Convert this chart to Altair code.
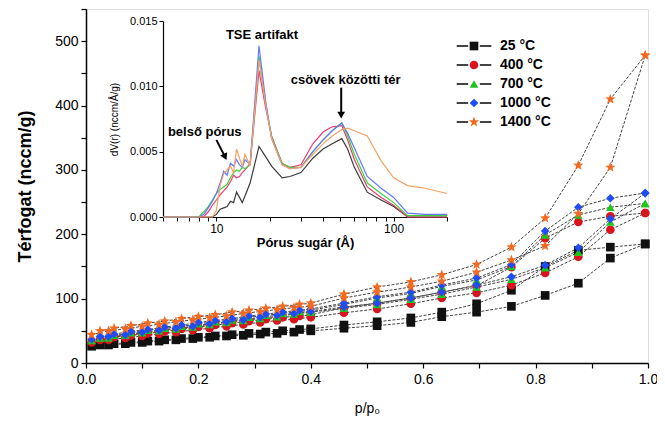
import altair as alt
import pandas as pd

FONT = "Liberation Sans"

# ---------------- main isotherm data ----------------
temps = ["25 °C", "400 °C", "700 °C", "1000 °C", "1400 °C"]
marker_colors = ["#111111", "#d8141e", "#1fc41f", "#1f4cf5", "#f26a21"]
star = ("M0,-1.25L0.309,-0.425L1.189,-0.386L0.499,0.163L0.735,1.011L0,0.525"
        "L-0.735,1.011L-0.499,0.163L-1.189,-0.386L-0.309,-0.425Z")
marker_shapes = ["square", "circle", "triangle-up", "diamond", star]

x_ads = [0.01, 0.04, 0.07, 0.10, 0.13, 0.16, 0.19, 0.22, 0.25, 0.28, 0.31, 0.34,
         0.37, 0.40, 0.459, 0.518, 0.578, 0.633, 0.695, 0.757, 0.817, 0.876, 0.933, 0.995]
x_des = [0.995, 0.933, 0.876, 0.817, 0.757, 0.695, 0.633, 0.578, 0.518, 0.459, 0.40, 0.38,
         0.35, 0.32, 0.29, 0.26, 0.23, 0.20, 0.17, 0.14, 0.11, 0.08, 0.05, 0.025]

ads_25 = [26, 28, 30, 32, 34, 36, 38, 40, 42, 43, 45, 46, 48, 50, 54, 58, 63, 72, 79, 88, 105, 124, 163, 185]
des_25 = [185, 180, 175, 150, 113, 92, 79, 70, 64, 59, 53, 52, 50, 48, 46, 44, 42, 40, 38, 36, 34, 32, 30, 28]
ads_400 = [32, 36, 39, 42, 45, 48, 51, 54, 57, 60, 63, 66, 68, 71, 78, 84, 92, 101, 109, 121, 140, 165, 207, 233]
des_400 = [233, 228, 219, 194, 149, 120, 110, 101, 93, 86, 75, 73, 71, 68, 65, 62, 59, 56, 53, 49, 46, 43, 40, 36]
ads_700 = [35, 39, 43, 47, 50, 53, 56, 60, 63, 66, 69, 72, 76, 79, 85, 91, 99, 107, 118, 130, 148, 172, 219, 248]
des_700 = [248, 242, 230, 199, 150, 129, 119, 108, 101, 91, 82, 80, 77, 74, 71, 67, 64, 61, 57, 54, 51, 47, 43, 39]
ads_1000 = [37, 41, 44, 48, 51, 54, 57, 61, 64, 67, 71, 74, 77, 80, 87, 93, 101, 110, 121, 134, 152, 179, 224, 264]
des_1000 = [264, 256, 242, 205, 153, 132, 121, 110, 103, 93, 84, 82, 79, 76, 73, 69, 66, 63, 59, 56, 52, 49, 45, 41]
ads_1400 = [44, 50, 53, 57, 60, 64, 67, 70, 73, 77, 80, 83, 86, 88, 101, 110, 118, 127, 141, 160, 182, 232, 304, 478]
des_1400 = [478, 410, 307, 225, 180, 153, 137, 126, 118, 107, 93, 91, 88, 85, 82, 79, 75, 72, 69, 65, 62, 58, 54, 50]

ads_all = [ads_25, ads_400, ads_700, ads_1000, ads_1400]
des_all = [des_25, des_400, des_700, des_1000, des_1400]

rows = []
for t, a, d in zip(temps, ads_all, des_all):
    for i, (xv, yv) in enumerate(zip(x_ads, a)):
        rows.append({"series": t, "branch": "ads", "idx": i, "x": xv, "y": yv})
    for i, (xv, yv) in enumerate(zip(x_des, d)):
        rows.append({"series": t, "branch": "des", "idx": i, "x": xv, "y": yv})
main_df = pd.DataFrame(rows)

# ---------------- inset (pore size distribution) ----------------
r_grid = [5, 6, 7, 8, 8.5, 9, 9.5, 10, 10.5, 11, 11.5, 12, 12.5, 13, 13.5, 14, 14.5, 15.5,
          17.4, 19, 20.5, 23.5, 26, 30, 35, 40, 45, 51, 55, 60, 71, 85, 100, 120, 150, 200]
psd_25 = [0, 0, 0, 0, 0, 0, 0, 0.2, 0.6, 0.7, 0.8, 1.2, 1.1, 1.9, 1.5, 1.1, 1.6, 2.6,
          5.4, 4.6, 3.9, 3.0, 3.1, 3.4, 4.5, 5.2, 5.6, 6.0, 5.2, 3.8, 1.9, 1.3, 0.8, 0.0, 0.0, 0.0]
psd_400 = [0, 0, 0, 0, 0.05, 0.4, 0.9, 1.3, 1.7, 2.0, 2.3, 2.7, 3.2, 3.0, 3.1, 3.4, 3.6, 4.1,
           11.2, 8.3, 6.2, 4.1, 3.8, 4.0, 5.6, 6.5, 6.9, 7.0, 5.9, 4.4, 2.3, 1.5, 0.9, 0.0, 0.0, 0.0]
psd_700 = [0, 0, 0, 0.05, 0.4, 0.8, 1.3, 1.8, 2.1, 2.3, 2.5, 3.0, 3.4, 3.6, 3.5, 3.8, 3.7, 4.0,
           12.3, 8.6, 6.1, 4.1, 3.8, 3.8, 5.0, 5.9, 6.6, 7.2, 6.2, 4.8, 2.6, 1.8, 1.1, 0.1, 0.1, 0.1]
psd_1000 = [0, 0, 0, 0, 0.2, 0.7, 1.2, 1.8, 2.6, 3.5, 3.2, 4.1, 3.9, 4.4, 4.0, 3.8, 4.4, 4.0,
            13.1, 8.8, 6.0, 4.0, 3.7, 3.8, 5.0, 5.9, 6.6, 7.2, 6.4, 5.3, 3.1, 2.2, 1.5, 0.3, 0.2, 0.2]
psd_1400 = [0, 0, 0, 0, 0, 0, 0, 0.5, 2.4, 3.3, 3.6, 3.9, 3.4, 5.2, 4.5, 3.9, 4.8, 3.9,
            12.0, 8.5, 6.0, 4.0, 3.7, 3.8, 4.8, 5.6, 6.2, 6.7, 6.8, 6.6, 6.2, 4.3, 3.0, 2.4, 2.2, 1.8]
psd_all = [psd_25, psd_400, psd_700, psd_1000, psd_1400]
inset_colors = ["#3a3a3a", "#ee3a6e", "#3ad43a", "#6476ff", "#f4a263"]

irows = []
for t, vals in zip(temps, psd_all):
    for rv, vv in zip(r_grid, vals):
        irows.append({"series": t, "r": rv, "v": vv / 1000.0})
inset_df = pd.DataFrame(irows)

notes_r = [18.1, 53.6, 8.6]
notes_v = [0.0139, 0.0105, 0.0065]
notes_text = ["TSE artifakt", "csövek közötti tér", "belső pórus"]
notes_df = pd.DataFrame({"r": notes_r, "v": notes_v, "text": notes_text})

arrow_r = [10.0, 50.6]
arrow_r2 = [11.2, 50.6]
arrow_v = [0.0059, 0.0099]
arrow_v2 = [0.0046, 0.0078]
arrow_angle = [334, 0]
arrows_df = pd.DataFrame({"r": arrow_r, "r2": arrow_r2, "v": arrow_v, "v2": arrow_v2,
                          "angle": arrow_angle})

# ---------------- main chart ----------------
W, H = 562, 354
IX0, IX1 = 77, 361      # inset horizontal extent inside the plot area
IY0, IY1 = 208, 12      # inset vertical extent inside the plot area

x_main = alt.X("x:Q", scale=alt.Scale(domain=[0, 1], nice=False),
               axis=alt.Axis(title="p/p₀", values=[i / 10 for i in range(11)], format=".1f",
                             labelExpr="(round(datum.value*10) % 2 == 0) ? datum.label : ''",
                             labelFontSize=14, titleFontSize=14, titleFontWeight="normal",
                             tickSize=5, labelPadding=4, titlePadding=15, labelFlush=False,
                             domainWidth=1.5, tickWidth=1.2, domainColor="#000", tickColor="#000",
                             labelColor="#000", titleColor="#000", grid=False))
y_main = alt.Y("y:Q", scale=alt.Scale(domain=[0, 550], nice=False),
               axis=alt.Axis(title="Térfogat (nccm/g)", values=list(range(0, 551, 50)),
                             labelExpr="(datum.value % 100 == 0) ? datum.label : ''",
                             labelFontSize=14, titleFontSize=18, titleFontWeight="bold",
                             tickSize=5, labelPadding=3, titlePadding=20,
                             domainWidth=1.5, tickWidth=1.2, domainColor="#000", tickColor="#000",
                             labelColor="#000", titleColor="#000", grid=False))

line_legend = alt.Legend(title=None, orient="none", legendX=381, legendY=30,
                         symbolType="M-4,0H-1.35M1.35,0H4", symbolSize=75,
                         symbolStrokeWidth=1.8, symbolDash=[20, 0], labelOpacity=0,
                         labelFontSize=14, labelFontWeight="bold", labelFont=FONT,
                         labelOffset=19, padding=0, rowPadding=5)
lines = alt.Chart(main_df).mark_line(strokeWidth=1, strokeDash=[3, 1.5]).encode(
    x=x_main, y=y_main, detail="branch:N", order="idx:Q",
    color=alt.Color("series:N", sort=temps,
                    scale=alt.Scale(domain=temps, range=["#444444"] * 5),
                    legend=line_legend),
)

pt_legend = alt.Legend(title=None, orient="none", legendX=381, legendY=30,
                       symbolSize=75, labelFontSize=14, labelFontWeight="bold", labelFont=FONT,
                       labelColor="#000", labelOffset=19, padding=0, rowPadding=5)
points = alt.Chart(main_df).mark_point(filled=True, size=75, opacity=1).encode(
    x=x_main, y=y_main,
    color=alt.Color("series:N", sort=temps, scale=alt.Scale(domain=temps, range=marker_colors),
                    legend=pt_legend),
    shape=alt.Shape("series:N", sort=temps, scale=alt.Scale(domain=temps, range=marker_shapes),
                    legend=pt_legend),
)

main = alt.layer(lines, points).resolve_scale(color="independent", shape="independent")

# ---------------- inset chart ----------------
ix_scale = alt.Scale(type="log", domain=[5, 200], range=[IX0, IX1], nice=False)
iy_scale = alt.Scale(domain=[0, 0.015], range=[IY0, IY1], nice=False)

ix = alt.X("r:Q", scale=ix_scale,
           axis=alt.Axis(orient="bottom", offset=-(H - IY0), title="Pórus sugár (Å)",
                         values=[5, 6, 7, 8, 9, 10, 20, 30, 40, 50, 60, 70, 80, 90, 100, 200],
                         labelExpr="(datum.value == 10 || datum.value == 100) ? datum.value : ''",
                         labelFontSize=12, titleFontSize=13, titleFontWeight="bold",
                         tickSize=4, labelPadding=2, titlePadding=2, labelFlush=False,
                         domainWidth=1.2, domainColor="#000", tickColor="#000",
                         labelColor="#000", titleColor="#000", grid=False))
iy = alt.Y("v:Q", scale=iy_scale,
           axis=alt.Axis(orient="left", offset=-IX0, title="dV(r) (nccm/Å/g)",
                         values=[0, 0.005, 0.01, 0.015], format=".3f",
                         labelFontSize=11, titleFontSize=10, titleFontWeight="normal",
                         tickSize=4, labelPadding=2, titlePadding=10,
                         domainWidth=1.2, domainColor="#000", tickColor="#000",
                         labelColor="#000", titleColor="#000", grid=False))

inset_lines = alt.Chart(inset_df).mark_line(strokeWidth=1.2).encode(
    x=ix, y=iy, order="r:Q",
    color=alt.Color("series:N", sort=temps, scale=alt.Scale(domain=temps, range=inset_colors),
                    legend=None),
)
notes = alt.Chart(notes_df).mark_text(font=FONT, fontSize=13, fontWeight="bold",
                                      color="#000").encode(x="r:Q", y="v:Q", text="text:N")
arrow_shaft = alt.Chart(arrows_df).mark_rule(strokeWidth=2, color="#000").encode(
    x="r:Q", x2="r2:Q", y="v:Q", y2="v2:Q")
arrow_head = alt.Chart(arrows_df).mark_point(shape="triangle-down", filled=True, size=60,
                                             color="#000", opacity=1).encode(
    x="r2:Q", y="v2:Q", angle=alt.Angle("angle:Q", scale=None))

inset = alt.layer(inset_lines, notes, arrow_shaft, arrow_head)

chart = alt.layer(main, inset).resolve_scale(
    x="independent", y="independent", color="independent", shape="independent"
).properties(
    width=W, height=H, autosize=alt.AutoSizeParams(type="none"),
    padding={"left": 78, "top": 1, "right": 9, "bottom": 54},
).configure_view(stroke=None).configure(font=FONT)

chart.save("out.html", embed_options={"renderer": "svg", "actions": False})
